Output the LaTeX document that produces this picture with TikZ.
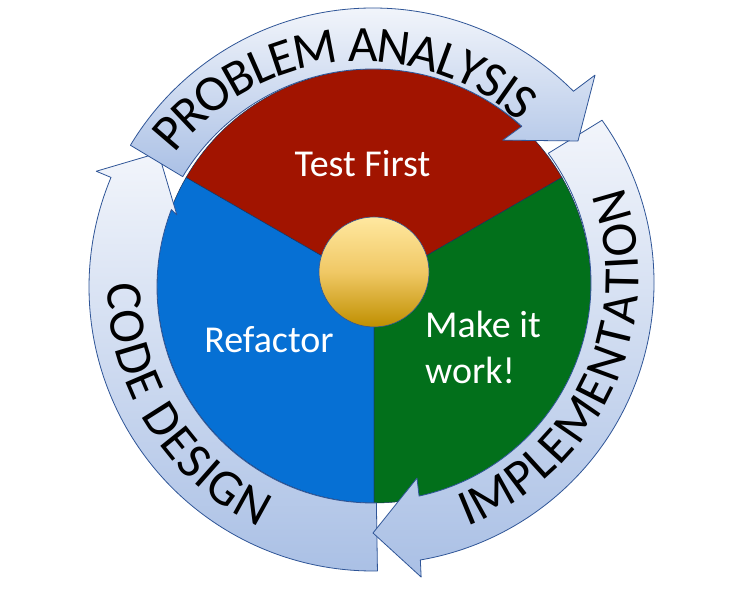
\documentclass[tikz,border=0pt]{standalone}
\usepackage{fontspec}
\setmainfont{Carlito}
\usetikzlibrary{decorations.text}
\definecolor{pred}{HTML}{A11400}
\definecolor{pblue}{HTML}{0670D4}
\definecolor{pgreen}{HTML}{02701B}
\definecolor{bandtop}{HTML}{F2F5FB}
\definecolor{bandbot}{HTML}{AAC0E5}
\definecolor{bandline}{HTML}{2F5597}
\definecolor{hubtop}{HTML}{FFE8A0}
\definecolor{hubmid}{HTML}{F0C865}
\definecolor{hubbot}{HTML}{BF8F00}
\newcommand\bandfont{\fontsize{51}{51}\selectfont}
\begin{document}
\begin{tikzpicture}[x=1pt,y=1pt,
  band/.style={draw=bandline, line width=0.8pt, line join=round, top color=bandtop, bottom color=bandbot},
  sector/.style={draw=bandline!60!black, line width=0.5pt},
  inner/.style={text=white, font=\fontsize{38}{45}\selectfont, inner sep=0pt},
  bandtext/.style={decorate, decoration={text along path, text align=center, raise=-16.4pt, text={|\bandfont|#1}}}
]
\fill[white] (0,0) rectangle (750,590);
\useasboundingbox (0,0) rectangle (750,590);

% pie
\begin{scope}[shift={(374,304)}]
  \path[sector, fill=pred] (0,0) -- (30:217) arc[start angle=30, end angle=150, radius=217] -- cycle;
  \path[sector, fill=pblue] (0,0) -- (150:217) arc[start angle=150, end angle=270, radius=217] -- cycle;
  \path[sector, fill=pgreen] (0,0) -- (270:217) arc[start angle=270, end angle=390, radius=217] -- cycle;
\end{scope}

% hub
\node[circle, minimum size=110pt, inner sep=0pt, draw=bandline, line width=0.6pt,
      top color=hubtop, bottom color=hubbot, middle color=hubmid] (hub) at (374,318) {};

% band 3: CODE DESIGN
\begin{scope}[shift={(373,303)}]
  \path[band] (270.9:284) arc[start angle=270.9, end angle=157.3, radius=284]
     -- (157.3:300) -- (148:253) -- (159.8:209) -- (159:216)
     arc[start angle=159, end angle=270.9, radius=216] -- cycle;
  \path[bandtext=CODE DESIGN] (162:249) arc[start angle=162, end angle=262, radius=249];
\end{scope}

% band 2: IMPLEMENTATION
\begin{scope}[shift={(373,307)}]
  \path[band] (35.4:281) arc[start angle=35.4, end angle=-80.3, radius=281]
     -- (-80.7:298) -- (-90:250) -- (-77.3:200) -- (-77.8:218)
     arc[start angle=-77.8, end angle=36.5, radius=218] -- cycle;
\end{scope}
\path[shift={(370,314)}, bandtext=IMPLEMENTATION] (-84.65:252) arc[start angle=-84.65, end angle=35.35, radius=252];

% band 1: PROBLEM ANALYSIS
\begin{scope}[shift={(373,299)}]
  \path[band] (149:283) arc[start angle=149, end angle=44.9, radius=283]
     -- (44.2:309.7) -- (36.2:254) -- (49.3:199) -- (47.9:222)
     arc[start angle=47.9, end angle=149, radius=222] -- cycle;
\end{scope}
\path[shift={(362,293)}, bandtext=PROBLEM ANALYSIS] (160.3:252) arc[start angle=160.3, end angle=30.3, radius=252];

% inner labels
\node[inner, anchor=base] (tf) at (362.5,413) {Test First};
\node[inner, anchor=base] (rf) at (269,238) {Refactor};
\node[inner, anchor=base west] (mk) at (425,253) {Make it};
\node[inner, anchor=base west] (wk) at (425,207) {work!};
\end{tikzpicture}
\end{document}
